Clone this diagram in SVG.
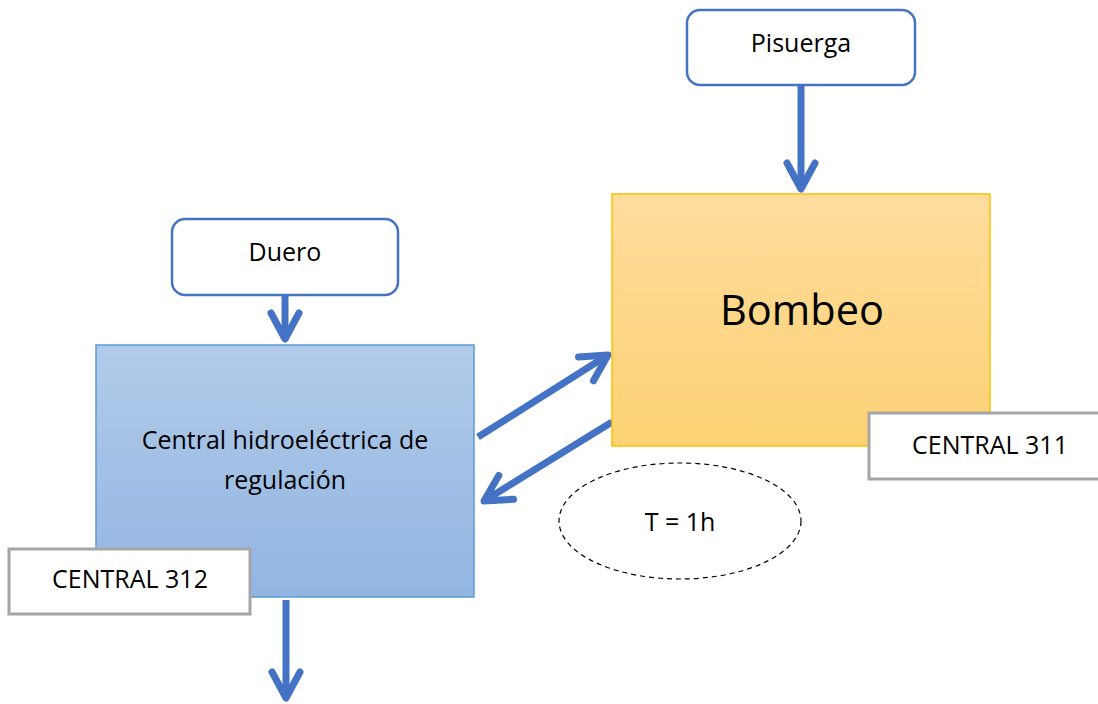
<svg xmlns="http://www.w3.org/2000/svg" width="1098" height="704" viewBox="0 0 1098 704">
<style>
.src{fill:#fff;stroke:#4472C4;stroke-width:2.5}
.lbl{fill:#fff;stroke:#A5A5A5;stroke-width:3}
.t{font-family:"Open Sans","Liberation Sans",sans-serif;fill:#000;text-anchor:middle;font-size:25px}
.arr{fill:none;stroke:#4472C4;stroke-width:7;marker-end:url(#ah)}
</style>
<defs>
<marker id="ah" markerUnits="userSpaceOnUse" orient="auto" markerWidth="50" markerHeight="50" refX="0" refY="0" viewBox="-35 -25 45 50" overflow="visible">
<path d="M-26 -14 L0 0 L-26 14" fill="none" stroke="#4472C4" stroke-width="7" stroke-linecap="round" stroke-linejoin="round"/>
</marker>
<linearGradient id="gy" x1="0" y1="0" x2="0" y2="1"><stop offset="0" stop-color="#FEDC9C"/><stop offset="1" stop-color="#FDD275"/></linearGradient>
<linearGradient id="gb" x1="0" y1="0" x2="0" y2="1"><stop offset="0" stop-color="#B1CBE9"/><stop offset="1" stop-color="#92B5E2"/></linearGradient>
</defs>
<g id="connectors">
<line class="arr" x1="801" y1="86" x2="801" y2="189"/>
<line class="arr" x1="285" y1="296" x2="285" y2="339"/>
<line class="arr" x1="286" y1="600" x2="286" y2="698"/>
<line class="arr" x1="478" y1="437" x2="608" y2="355"/>
<line class="arr" x1="612" y1="422" x2="484" y2="501"/>
</g>
<g id="pisuerga">
<rect class="src" x="687" y="10" width="228" height="75" rx="13"/>
<text class="t" x="801" y="52">Pisuerga</text>
</g>
<g id="bombeo">
<rect x="612" y="194" width="378" height="252" fill="url(#gy)" stroke="#FFC000" stroke-width="1.5"/>
<text class="t" x="802" y="325" style="font-size:41.5px">Bombeo</text>
</g>
<g id="central311">
<rect class="lbl" x="869" y="413" width="240" height="66"/>
<text class="t" x="990" y="454">CENTRAL 311</text>
</g>
<g id="duero">
<rect class="src" x="172" y="219" width="226" height="76" rx="13"/>
<text class="t" x="285" y="261">Duero</text>
</g>
<g id="central">
<rect x="96" y="345" width="378" height="252" fill="url(#gb)" stroke="#5B9BD5" stroke-width="1.5"/>
<text class="t" x="285" y="449">Central hidroeléctrica de</text>
<text class="t" x="285" y="489">regulación</text>
</g>
<g id="central312">
<rect class="lbl" x="9" y="549" width="241" height="65"/>
<text class="t" x="130" y="588">CENTRAL 312</text>
</g>
<g id="tiempo">
<ellipse cx="680" cy="521" rx="121" ry="58" fill="none" stroke="#000" stroke-width="1.2" stroke-dasharray="5 4"/>
<text class="t" x="680" y="531">T = 1h</text>
</g>
</svg>
